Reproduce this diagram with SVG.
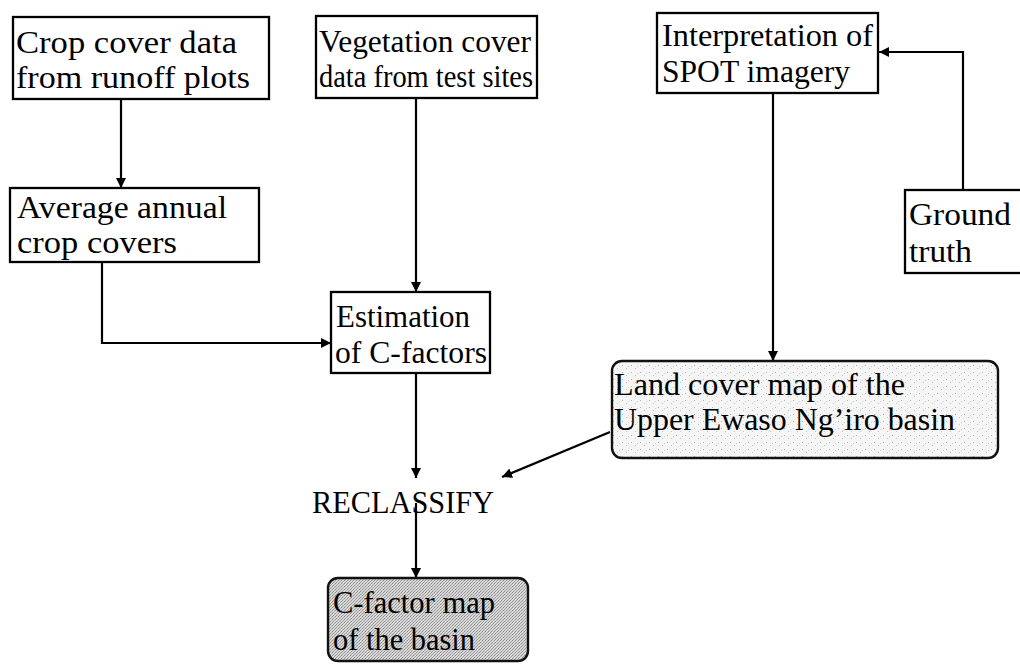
<svg xmlns="http://www.w3.org/2000/svg" width="1020" height="667" viewBox="0 0 1020 667">
  <style>
    .box { fill: #ffffff; stroke: #000000; stroke-width: 2.3; }
    .map { stroke: #111111; stroke-width: 2.4; }
    .lbl { font-family: "Liberation Serif", "Times New Roman", serif; font-size: 32px; fill: #000000; }
    .wire { fill: none; stroke: #000000; stroke-width: 2.2; }
  </style>
  <defs>
    <marker id="arrow" viewBox="0 0 10 10" refX="10" refY="5" markerWidth="10" markerHeight="10" markerUnits="userSpaceOnUse" orient="auto">
      <path d="M0,0 L10,5 L0,10 Z" fill="#000000"/>
    </marker>
    <!-- light speckled fill for the land cover map -->
    <pattern id="speckleLight" width="9" height="7" patternUnits="userSpaceOnUse">
      <rect width="9" height="7" fill="#f5f5f5"/>
      <rect x="1" y="1" width="1" height="1" fill="#b0b0b0"/>
      <rect x="5" y="4" width="1" height="1" fill="#c0c0c0"/>
      <rect x="7" y="2" width="1" height="1" fill="#d0d0d0"/>
    </pattern>
    <!-- dense checker fill for the C-factor map -->
    <pattern id="speckleDark" width="3" height="3" patternUnits="userSpaceOnUse">
      <rect width="3" height="3" fill="#d8d8d8"/>
      <rect x="0" y="0" width="1" height="1" fill="#969696"/>
      <rect x="2" y="1" width="1" height="1" fill="#8c8c8c"/>
      <rect x="1" y="2" width="1" height="1" fill="#a4a4a4"/>
    </pattern>
  </defs>

  <rect width="1020" height="667" fill="#ffffff"/>

  <g id="connectors">
    <line class="wire" x1="121" y1="99" x2="121" y2="188" marker-end="url(#arrow)"/>
    <line class="wire" x1="416" y1="97" x2="416" y2="292" marker-end="url(#arrow)"/>
    <polyline class="wire" points="102,262 102,343 331,343" marker-end="url(#arrow)"/>
    <line class="wire" x1="416" y1="373" x2="416" y2="478" marker-end="url(#arrow)"/>
    <line class="wire" x1="773" y1="93" x2="773" y2="361" marker-end="url(#arrow)"/>
    <polyline class="wire" points="963,190 963,52 879,52" marker-end="url(#arrow)"/>
    <line class="wire" x1="610" y1="432" x2="502" y2="477" marker-end="url(#arrow)"/>
    <line class="wire" x1="416" y1="503" x2="416" y2="578" marker-end="url(#arrow)"/>
  </g>

  <g id="crop-cover-data">
    <rect class="box" x="13" y="17" width="256" height="82"/>
    <text class="lbl" x="16" y="53" textLength="221" lengthAdjust="spacingAndGlyphs">Crop cover data</text>
    <text class="lbl" x="16" y="88" textLength="234" lengthAdjust="spacingAndGlyphs">from runoff plots</text>
  </g>

  <g id="vegetation-cover-data">
    <rect class="box" x="316" y="16" width="221" height="82"/>
    <text class="lbl" x="319" y="52" textLength="212" lengthAdjust="spacingAndGlyphs">Vegetation cover</text>
    <text class="lbl" x="319" y="87" textLength="214" lengthAdjust="spacingAndGlyphs">data from test sites</text>
  </g>

  <g id="spot-interpretation">
    <rect class="box" x="657" y="13" width="221" height="80"/>
    <text class="lbl" x="662" y="46" textLength="211" lengthAdjust="spacingAndGlyphs">Interpretation of</text>
    <text class="lbl" x="662" y="82" textLength="188" lengthAdjust="spacingAndGlyphs">SPOT imagery</text>
  </g>

  <g id="ground-truth">
    <rect class="box" x="905" y="190" width="120" height="83"/>
    <text class="lbl" x="909" y="225" textLength="102" lengthAdjust="spacingAndGlyphs">Ground</text>
    <text class="lbl" x="909" y="262" textLength="63" lengthAdjust="spacingAndGlyphs">truth</text>
  </g>

  <g id="average-crop-covers">
    <rect class="box" x="10" y="188" width="249" height="74"/>
    <text class="lbl" x="17" y="218" textLength="210" lengthAdjust="spacingAndGlyphs">Average annual</text>
    <text class="lbl" x="17" y="253" textLength="160" lengthAdjust="spacingAndGlyphs">crop covers</text>
  </g>

  <g id="c-factor-estimation">
    <rect class="box" x="331" y="292" width="159" height="81"/>
    <text class="lbl" x="336" y="327" textLength="134" lengthAdjust="spacingAndGlyphs">Estimation</text>
    <text class="lbl" x="335" y="363" textLength="152" lengthAdjust="spacingAndGlyphs">of C-factors</text>
  </g>

  <g id="land-cover-map">
    <rect class="map" x="612" y="361" width="386" height="97" rx="10" ry="10" fill="url(#speckleLight)"/>
    <text class="lbl" x="614" y="395" textLength="291" lengthAdjust="spacingAndGlyphs">Land cover map of the</text>
    <text class="lbl" x="614" y="430" textLength="341" lengthAdjust="spacingAndGlyphs">Upper Ewaso Ng’iro basin</text>
  </g>

  <g id="reclassify">
    <text class="lbl" x="312" y="513" font-size="31" textLength="182" lengthAdjust="spacingAndGlyphs">RECLASSIFY</text>
  </g>

  <g id="c-factor-map">
    <rect class="map" x="328" y="578" width="200" height="83" rx="10" ry="10" fill="url(#speckleDark)"/>
    <text class="lbl" x="333" y="613" textLength="162" lengthAdjust="spacingAndGlyphs">C-factor map</text>
    <text class="lbl" x="333" y="650" textLength="142" lengthAdjust="spacingAndGlyphs">of the basin</text>
  </g>
</svg>
